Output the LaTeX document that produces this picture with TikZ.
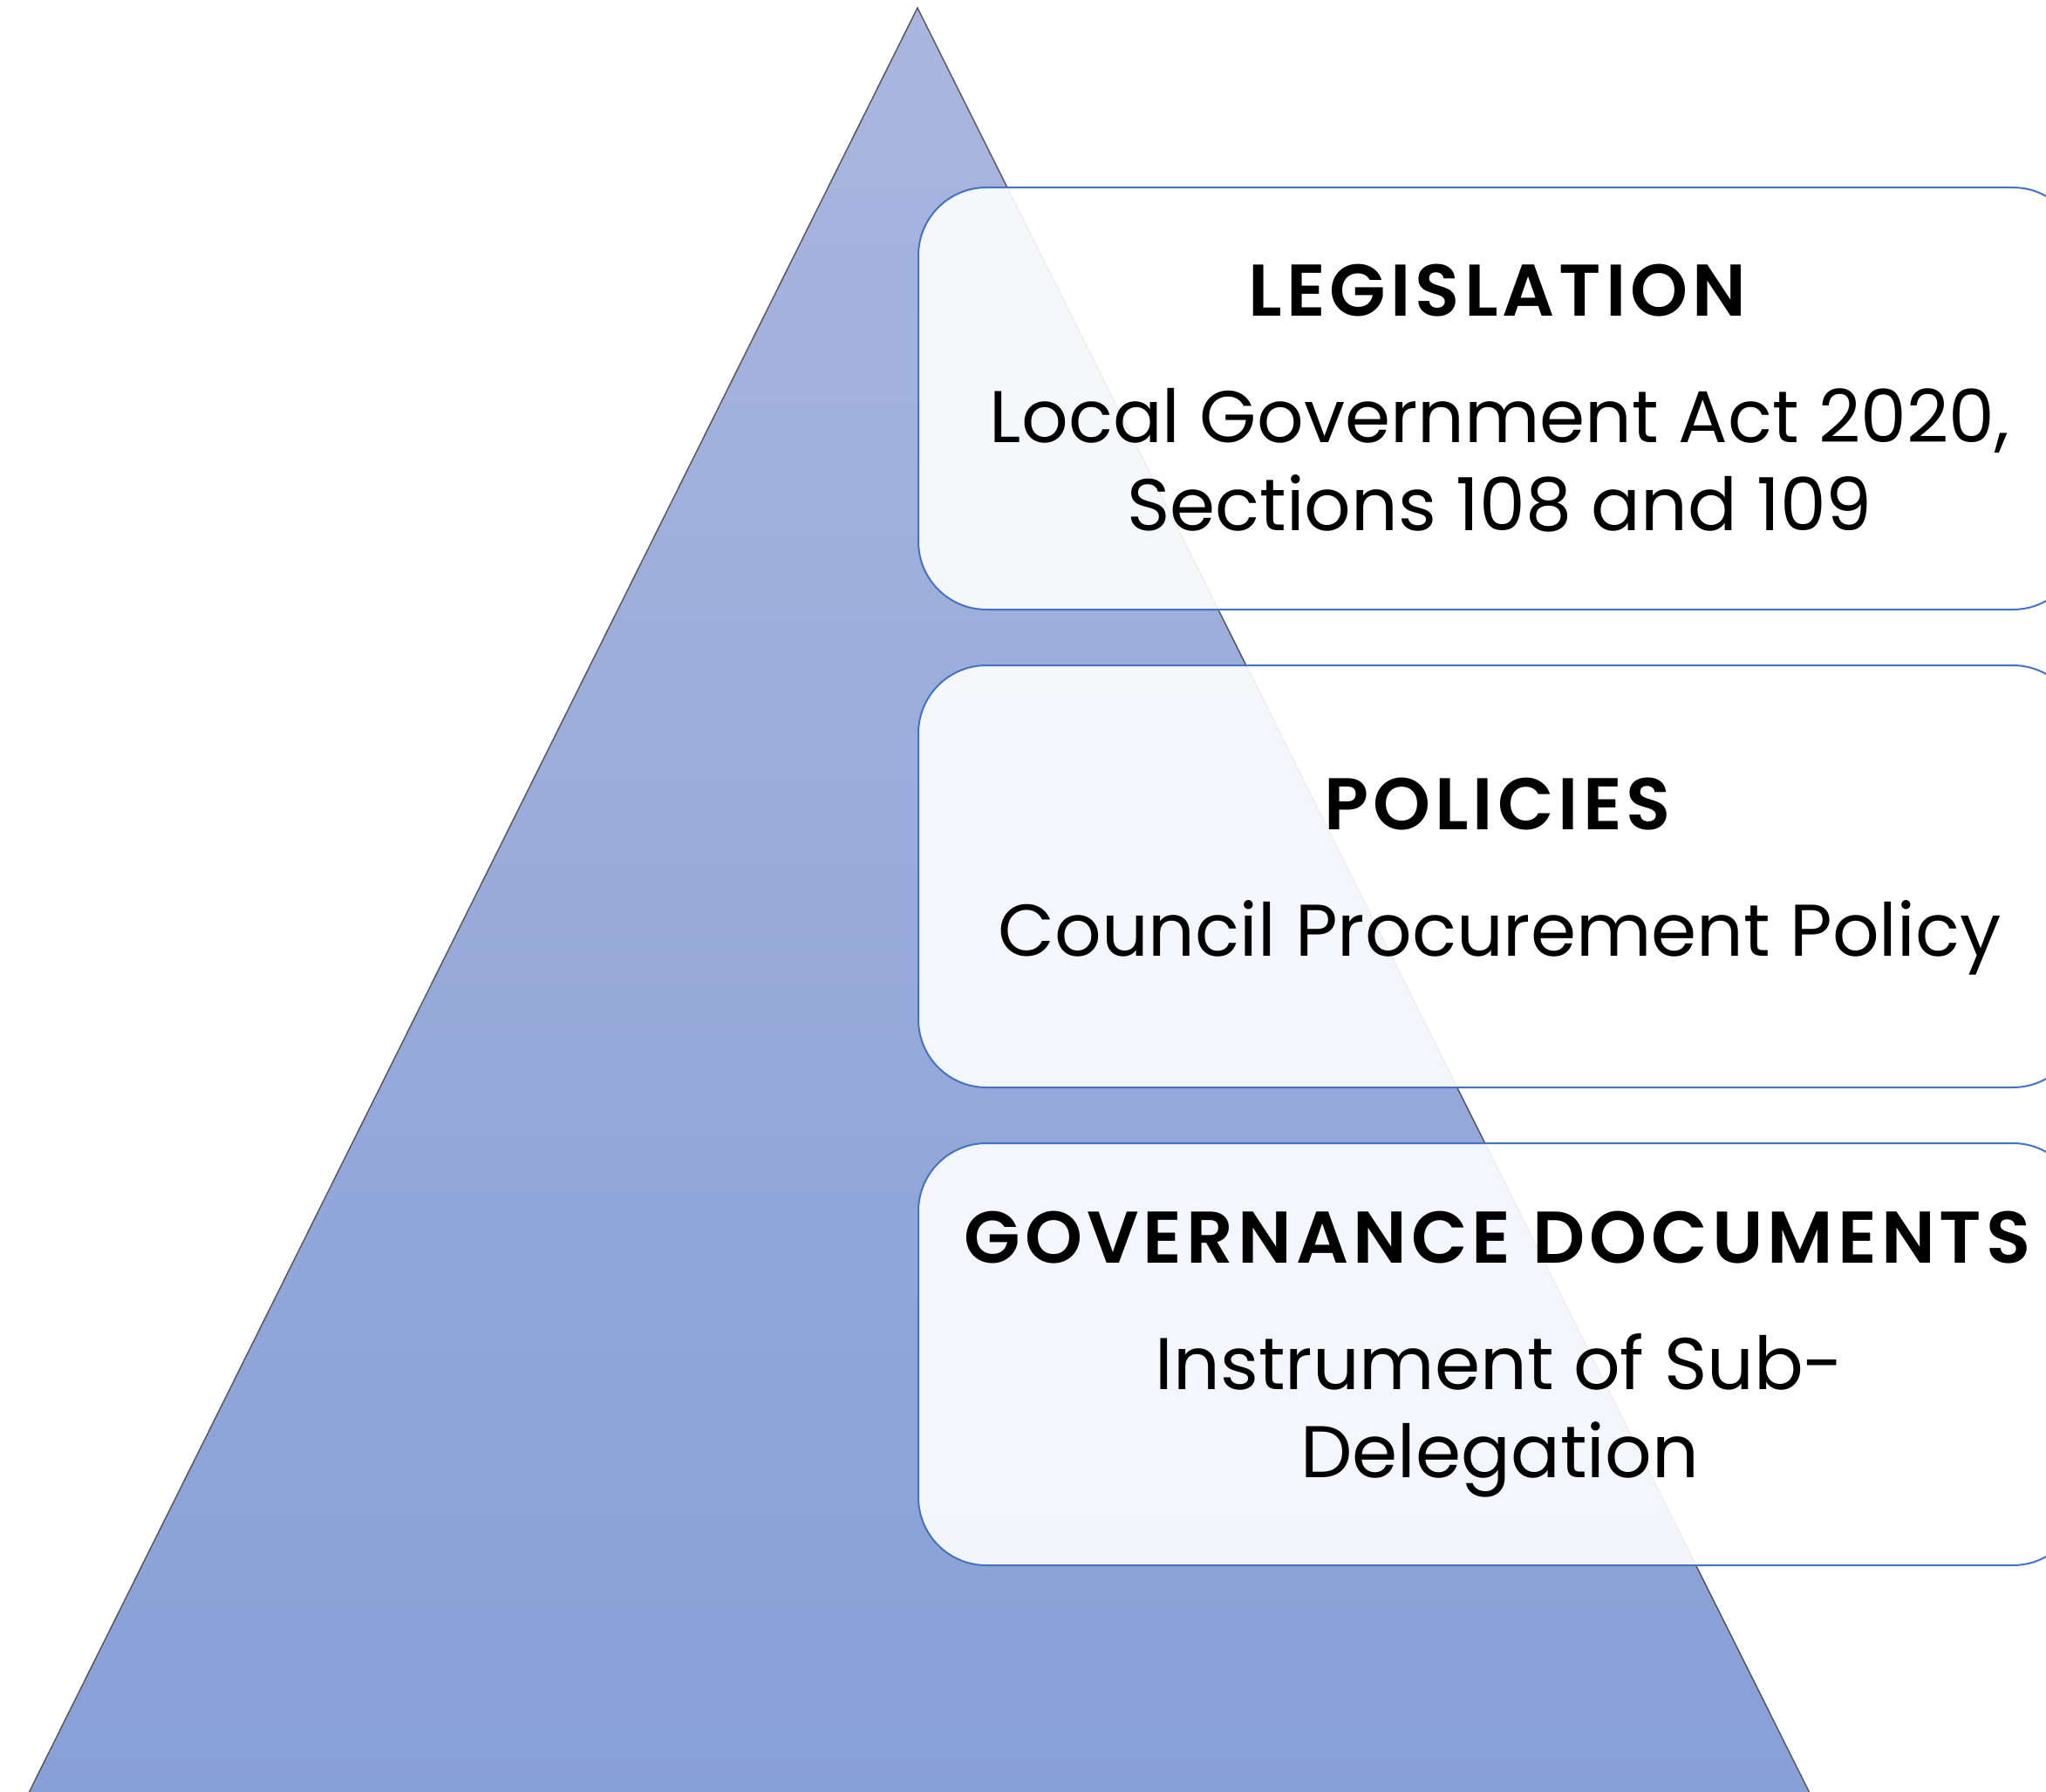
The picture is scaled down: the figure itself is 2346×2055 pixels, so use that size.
\documentclass[tikz,border=0pt]{standalone}
\usepackage{fontspec}
\setmainfont{Poppins}[BoldFont={* SemiBold}, BoldFeatures={LetterSpace=6}]
\usetikzlibrary{positioning}
\definecolor{pyrtop}{HTML}{A9B6DF}
\definecolor{pyrbot}{HTML}{87A0D6}
\definecolor{boxline}{HTML}{4472C4}

\begin{document}
\begin{tikzpicture}[x=1pt, y=-1pt, node distance = 62pt,
                    layer/.style = {draw=boxline, line width=2pt, rounded corners=78pt,
                      fill=white, fill opacity=0.9, text opacity=1,
                      minimum width=1333pt, minimum height=484pt, inner sep=0pt,
                      align=center, font=\fontsize{84}{101}\selectfont}]
\useasboundingbox (0,0) rectangle (2346,2055);
\clip (0,0) rectangle (2346,2055);
    \coordinate (apex) at (1052,9);
\coordinate (baseL) at (30,2062);
\coordinate (baseR) at (2078,2062);
    \shade[top color=pyrtop, bottom color=pyrbot, draw=black!65, line width=1.5pt]
(apex) -- (baseL) -- (baseR) -- cycle;
    \node[layer, anchor=north west] (legis) at (1052,214)
  {\textbf{LEGISLATION}\\[44pt]Local Government Act 2020,\\Sections 108 and 109};
\node[layer, below= of legis] (policies)
  {\textbf{POLICIES}\\[44pt]Council Procurement Policy};
\node[layer, below= of policies] (govdocs)
  {\textbf{GOVERNANCE DOCUMENTS}\\[44pt]Instrument of Sub-\\Delegation};
\end{tikzpicture}
\end{document}
